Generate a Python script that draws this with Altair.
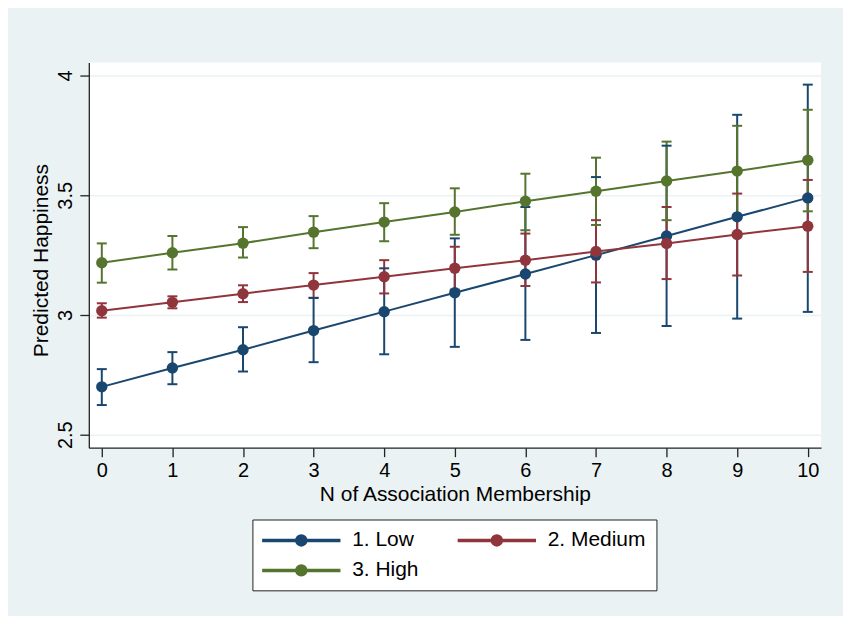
import altair as alt
import pandas as pd

# ---- data ----
members = [0, 1, 2, 3, 4, 5, 6, 7, 8, 9, 10]
groups = ["1. Low", "2. Medium", "3. High"]

low_mean = [2.700, 2.779, 2.855, 2.935, 3.014, 3.093, 3.171, 3.250, 3.330, 3.410, 3.489]
low_lo = [2.624, 2.711, 2.764, 2.803, 2.836, 2.867, 2.896, 2.925, 2.954, 2.985, 3.013]
low_hi = [2.774, 2.845, 2.949, 3.071, 3.195, 3.320, 3.451, 3.576, 3.707, 3.836, 3.962]

med_mean = [3.018, 3.053, 3.089, 3.125, 3.160, 3.195, 3.229, 3.265, 3.299, 3.336, 3.371]
med_lo = [2.989, 3.028, 3.054, 3.072, 3.090, 3.106, 3.121, 3.136, 3.150, 3.165, 3.180]
med_hi = [3.049, 3.078, 3.124, 3.175, 3.229, 3.285, 3.340, 3.396, 3.451, 3.507, 3.564]

high_mean = [3.218, 3.260, 3.300, 3.346, 3.388, 3.430, 3.475, 3.517, 3.560, 3.601, 3.646]
high_lo = [3.135, 3.190, 3.240, 3.279, 3.308, 3.335, 3.354, 3.376, 3.396, 3.414, 3.433]
high_hi = [3.299, 3.330, 3.367, 3.413, 3.467, 3.529, 3.590, 3.657, 3.724, 3.790, 3.857]

colors = ["#1a476f", "#90353b", "#55752f"]

rows = []
for g, m, lo, hi in zip(groups,
                        [low_mean, med_mean, high_mean],
                        [low_lo, med_lo, high_lo],
                        [low_hi, med_hi, high_hi]):
    for x, a, b, c in zip(members, m, lo, hi):
        rows.append({"x": x, "group": g, "mean": a, "lo": b, "hi": c})
df = pd.DataFrame(rows)

xscale = alt.Scale(domain=[-0.184, 10.188], nice=False, zero=False)
yscale = alt.Scale(domain=[2.446, 4.054], nice=False, zero=False)
cscale = alt.Scale(domain=groups, range=colors)

FONT = "Liberation Sans"

legend_path = ("M-3.85,-0.1L-0.45,-0.1L-0.45,0.1L-3.85,0.1Z "
               "M0.45,-0.1L3.85,-0.1L3.85,0.1L0.45,0.1Z "
               "M0.55,0A0.55,0.55,0,1,1,-0.55,0A0.55,0.55,0,1,1,0.55,0Z")

legend = alt.Legend(title=None, orient="none",
                    legendX=164, legendY=458,
                    columns=2, direction="horizontal",
                    symbolType=legend_path, symbolSize=400,
                    symbolOffset=28, labelOffset=40,
                    labelFontSize=21, labelFont=FONT,
                    labelColor="#000000",
                    columnPadding=36, rowPadding=9,
                    padding=10, strokeColor="#222222",
                    fillColor="#ffffff", cornerRadius=0)

color = alt.Color("group:N", scale=cscale, legend=legend)

xenc = alt.X("x:Q", scale=xscale,
             axis=alt.Axis(title="N of Association Membership",
                           values=members, grid=False, format="d",
                           tickSize=9, labelPadding=4, titlePadding=3))
yenc_mean = alt.Y("mean:Q", scale=yscale,
                  axis=alt.Axis(title="Predicted Happiness",
                                values=[2.5, 3, 3.5, 4], format="~g",
                                labelAngle=270, grid=True, tickSize=9,
                                labelPadding=4, titlePadding=4, titleY=198))

base = alt.Chart(df)

rules = base.mark_rule(strokeWidth=2).encode(
    x=alt.X("x:Q", scale=xscale),
    y=alt.Y("lo:Q", scale=yscale),
    y2="hi:Q",
    color=color,
)
cap_lo = base.mark_tick(orient="horizontal", size=10, thickness=2, opacity=1).encode(
    x=alt.X("x:Q", scale=xscale),
    y=alt.Y("lo:Q", scale=yscale),
    color=color,
)
cap_hi = base.mark_tick(orient="horizontal", size=10, thickness=2, opacity=1).encode(
    x=alt.X("x:Q", scale=xscale),
    y=alt.Y("hi:Q", scale=yscale),
    color=color,
)
lines = base.mark_line(strokeWidth=2).encode(
    x=xenc,
    y=yenc_mean,
    color=color,
)
points = base.mark_point(filled=True, size=130, opacity=1).encode(
    x=alt.X("x:Q", scale=xscale),
    y=alt.Y("mean:Q", scale=yscale),
    color=color,
)

chart = alt.layer(rules, cap_lo, cap_hi, lines, points).properties(
    width=734, height=386,
    autosize=alt.AutoSizeParams(type="none"),
    padding={"left": 81, "top": 54, "right": 22, "bottom": 168},
    background="#eaf2f3",
).configure_view(
    fill="#ffffff", stroke=None
).configure_axis(
    labelFont=FONT, titleFont=FONT, labelFontSize=20, titleFontSize=21,
    titleFontWeight="normal", labelColor="#000000", titleColor="#000000",
    domainColor="#222222", tickColor="#222222", domainWidth=1.3, tickWidth=1.3,
    gridColor="#eaf2f3", gridWidth=1.5,
)

chart.save("out.html", embed_options={"renderer": "svg", "actions": False})
